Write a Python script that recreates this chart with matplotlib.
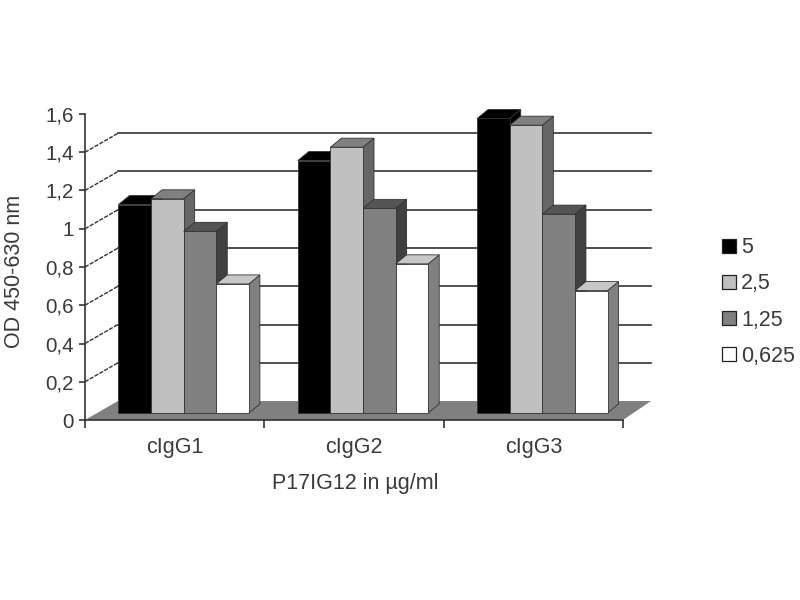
import matplotlib
matplotlib.use("Agg")
import matplotlib.pyplot as plt
from matplotlib.patches import Patch, Polygon

plt.rcParams["font.family"] = ["Liberation Sans", "DejaVu Sans"]

# values
groups = ["cIgG1", "cIgG2", "cIgG3"]
series = ["5", "2,5", "1,25", "0,625"]
vals_5 = [1.09, 1.32, 1.54]
vals_2_5 = [1.12, 1.39, 1.505]
vals_1_25 = [0.95, 1.07, 1.04]
vals_0_625 = [0.675, 0.78, 0.64]
y_ticks = [0, 0.2, 0.4, 0.6, 0.8, 1, 1.2, 1.4, 1.6]
y_labels = ["0", "0,2", "0,4", "0,6", "0,8", "1", "1,2", "1,4", "1,6"]

all_vals = [vals_5, vals_2_5, vals_1_25, vals_0_625]
fronts = ["#000000", "#c0c0c0", "#808080", "#ffffff"]
tops = ["#000000", "#808080", "#555555", "#c8c8c8"]
sides = ["#000000", "#666666", "#404040", "#808080"]

# px -> data units (axes is 538 x 306 px)
PX_X = 3 / 538
PX_Y = 1.6 / 306
WALL_DX, WALL_DY = 33 * PX_X, 19 * PX_Y
FRONT_DX, FRONT_DY = 9 * PX_X, 7 * PX_Y
BAR_DX, BAR_DY = 11 * PX_X, 9 * PX_Y
BAR_W = 32.6 * PX_X
TXT = "#3a3a3a"
FS = 15.5
FS_Y = 14.8

fig = plt.figure(figsize=(8, 6), dpi=100)
ax = fig.add_axes([85 / 800, 180 / 600, 538 / 800, 306 / 600])
ax.set_xlim(0, 3)
ax.set_ylim(0, 1.6)

# floor
ax.add_patch(Polygon([(0, 0), (3, 0), (3 + WALL_DX * 0.85, WALL_DY), (WALL_DX, WALL_DY)],
                     fc="#808080", ec="none", clip_on=False, zorder=1))

# back wall lines
for t in y_ticks[1:-1]:
    ax.plot([WALL_DX, 3 + WALL_DX * 0.85], [t + WALL_DY, t + WALL_DY], color="#333333", lw=1.2,
            clip_on=False, zorder=1)
    ax.plot([0, WALL_DX], [t, t + WALL_DY], color="#333333", lw=1, ls=(0, (3, 1)),
            clip_on=False, zorder=1)

# bars, left to right so each one covers the side of the previous one
z = 2
for g in range(len(groups)):
    for s, vals in enumerate(all_vals):
        left = g + 0.5 + FRONT_DX + (s - 2) * BAR_W
        right = left + BAR_W
        v = vals[g]
        bottom = FRONT_DY
        top = bottom + v
        ax.add_patch(Polygon([(right, bottom), (right + BAR_DX, bottom + BAR_DY),
                              (right + BAR_DX, top + BAR_DY), (right, top)],
                             fc=sides[s], ec="#333333", lw=0.6, clip_on=False, zorder=z))
        ax.add_patch(Polygon([(left, top), (right, top), (right + BAR_DX, top + BAR_DY),
                              (left + BAR_DX, top + BAR_DY)],
                             fc=tops[s], ec="#333333", lw=0.6, clip_on=False, zorder=z))
        ax.bar(left, v, width=BAR_W, bottom=bottom, align="edge", color=fronts[s],
               edgecolor="#333333", linewidth=0.6, zorder=z, clip_on=False)
        z += 1

ax.patch.set_visible(False)
for sp in ["top", "right"]:
    ax.spines[sp].set_visible(False)
for sp in ["left", "bottom"]:
    ax.spines[sp].set_color("#333333")
    ax.spines[sp].set_linewidth(1.2)
    ax.spines[sp].set_zorder(50)

ax.set_yticks(y_ticks)
ax.set_yticklabels(y_labels, fontsize=FS_Y, color=TXT)
ax.tick_params(axis="y", length=4, width=1.2, color="#333333", pad=4)
ax.set_xticks([0, 1, 2, 3])
ax.set_xticklabels([])
ax.tick_params(axis="x", length=6, width=1.2, color="#333333")
ax.set_xticks([0.5, 1.5, 2.5], minor=True)
ax.set_xticklabels(groups, minor=True, fontsize=FS, color=TXT)
ax.tick_params(axis="x", which="minor", length=0, pad=12)

fig.text(15 / 800, 1 - 271 / 600, "OD 450-630 nm", rotation=90, ha="center", va="center",
         fontsize=FS, color=TXT)
fig.text(355 / 800, 1 - 483 / 600, "P17IG12 in µg/ml", ha="center", va="center",
         fontsize=FS, color=TXT)

handles = [Patch(facecolor=c, edgecolor="#222222", linewidth=0.9) for c in fronts]
fig.legend(handles, series, loc="center left", bbox_to_anchor=(720 / 800, 1 - 302 / 600),
           frameon=False, fontsize=FS, labelcolor=TXT, handlelength=0.65, handleheight=0.65,
           handletextpad=0.22, labelspacing=0.7, borderpad=0.1, borderaxespad=0)

fig.savefig("out.png", dpi=100)
